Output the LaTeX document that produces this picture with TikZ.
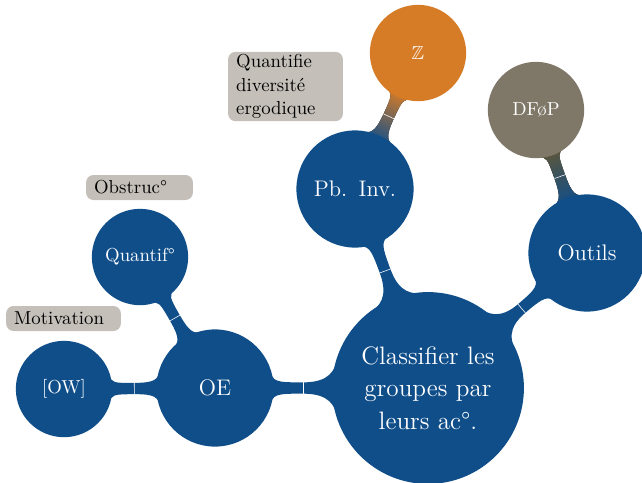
\documentclass[tikz,border=0pt]{standalone}
\usepackage{fontspec}
\usepackage{amssymb}
\usetikzlibrary{mindmap, calc, backgrounds}
\definecolor{oeblue}{RGB}{16,78,138}
\definecolor{zorange}{RGB}{214,124,39}
\definecolor{dfgray}{RGB}{127,120,104}
\definecolor{dfbar}{RGB}{92,86,58}
\definecolor{notegray}{RGB}{196,191,185}
\newcommand{\ideabar}[3]{%
  \fill[#3] let \p1=(#1.center), \p2=(#2.center),
      \p3=($(#1.east)-(#1.center)$), \p4=($(#2.east)-(#2.center)$),
      \n1={atan2(\y2-\y1,\x2-\x1)}, \n2={veclen(\x2-\x1,\y2-\y1)},
      \n5={(\x3+\n2-\x4)/2}, \n6={0.2*(\n2-\x3-\x4)}, \n7={0.45*(\n2-\x3-\x4)} in
    ($(\p1)+(\n1+18:\x3)$)
    .. controls +(\n1-72:\n6) and +(\n1+180:\n7) .. ($(\p1)+(\n1:\n5)+(\n1+90:3pt)$) coordinate (barup)
    .. controls +(\n1:\n7) and +(\n1-108:\n6) .. ($(\p2)+(\n1+162:\x4)$)
    -- ($(\p2)+(\n1+198:\x4)$)
    .. controls +(\n1+108:\n6) and +(\n1:\n7) .. ($(\p1)+(\n1:\n5)+(\n1-90:3pt)$) coordinate (bardown)
    .. controls +(\n1+180:\n7) and +(\n1+72:\n6) .. ($(\p1)+(\n1-18:\x3)$)
    -- cycle;
  \draw[white, line width=0.3pt] (barup) -- (bardown);
}
\begin{document}
\begin{tikzpicture}[
    mindmap, x=0.0187cm, y=-0.0187cm,
    idea/.style={concept, concept color=oeblue, text=white, align=center, inner sep=0pt},
    rootidea/.style={idea, minimum size=3.48cm, text width=3.2cm, font=\fontsize{13.4}{17.3}\selectfont},
    mainidea/.style={idea, minimum size=2.15cm, text width=1.9cm, font=\fontsize{12}{14}\selectfont},
    subidea/.style={idea, minimum size=1.76cm, text width=1.6cm, font=\fontsize{10}{12}\selectfont},
    note/.style={rectangle, rounded corners=4pt, fill=notegray, text=black, inner xsep=4.3pt, inner ysep=1.5pt, minimum width=0pt, minimum height=13.3pt, text width=52.5pt, align=left, font=\fontsize{10}{12.4}\selectfont}
]
\useasboundingbox (0,0) rectangle (642,482);
\clip (0,0) rectangle (642,482);
\node[rootidea] (classif) at (428,388) {Classifier les\\groupes par\\leurs ac°.};
\node[mainidea] (oe) at (215,388) {OE};
\node[subidea] (ow) at (64,389) {[OW]};
\node[subidea] (quantif) at (140,257) {Quantif°};
\node[mainidea] (pbinv) at (355,189) {Pb. Inv.};
\node[subidea, concept color=zorange] (zz) at (418,53) {$\mathbb{Z}$};
\node[mainidea] (outils) at (587,253) {Outils};
\node[subidea, concept color=dfgray] (dfop) at (536,110) {DFøP};
\begin{pgfonlayer}{background}
\ideabar{classif}{oe}{oeblue}
\ideabar{oe}{ow}{oeblue}
\ideabar{oe}{quantif}{oeblue}
\ideabar{classif}{pbinv}{oeblue}
\ideabar{pbinv}{zz}{bottom color=oeblue, top color=zorange, shading angle=-24.9}
\ideabar{classif}{outils}{oeblue}
\ideabar{outils}{dfop}{bottom color=oeblue, top color=dfbar, shading angle=19.6}
\end{pgfonlayer}
\node[note] (ergo) at (285.5,86.5) {Quantifie diversité ergodique};
\node[note, text width=48.3pt] (obstr) at (139.5,187.5) {Obstruc°};
\node[note] (motiv) at (63.5,318.5) {Motivation};
\end{tikzpicture}
\end{document}
